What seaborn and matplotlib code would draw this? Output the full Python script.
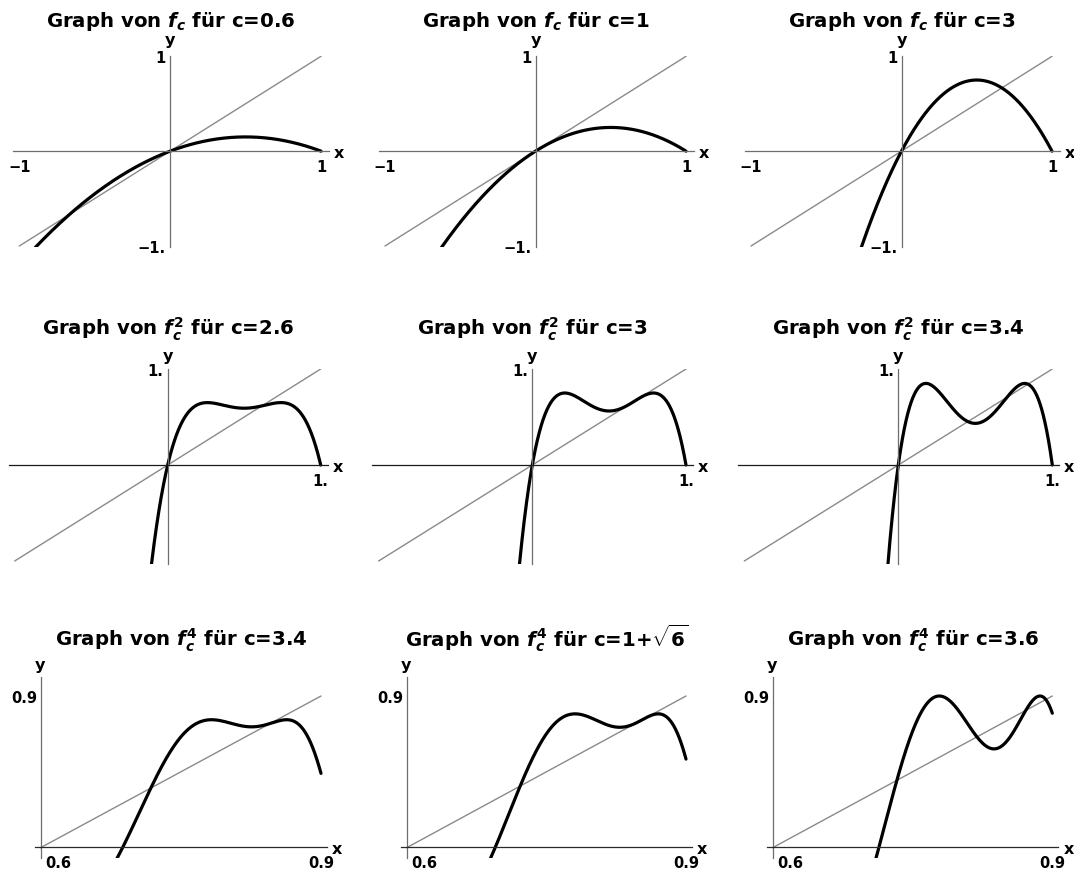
import numpy as np
import matplotlib
matplotlib.use("Agg")
import matplotlib.pyplot as plt
import seaborn as sns

# Logistic map f_c(x) = c*x*(1-x); each row shows an iterate f_c^n
c_row1 = [0.6, 1.0, 3.0]
c_row2 = [2.6, 3.0, 3.4]
c_row3 = [3.4, 1 + np.sqrt(6), 3.6]
c_labels_row1 = ["0.6", "1", "3"]
c_labels_row2 = ["2.6", "3", "3.4"]
c_labels_row3 = ["3.4", r"1+$\sqrt{6}$", "3.6"]
iterations = [1, 2, 4]
iterate_labels = [r"$f_c$", r"$f_c^2$", r"$f_c^4$"]
domains = [(-1.0, 1.0), (-1.0, 1.0), (0.58, 0.9)]

# Axis ticks and their printed labels per row
xticks_row1, xticklabels_row1 = [-1, 1], ["\u22121", "1"]
yticks_row1, yticklabels_row1 = [-1, 1], ["\u22121.", "1"]
xticks_row2, xticklabels_row2 = [1], ["1."]
yticks_row2, yticklabels_row2 = [1], ["1."]
xticks_row3, xticklabels_row3 = [0.6, 0.9], ["0.6", "0.9"]
yticks_row3, yticklabels_row3 = [0.6, 0.9], ["", "0.9"]

W, H = 1074, 870

sns.set_theme(style="white")
plt.rcParams["font.family"] = ["DejaVu Sans"]
plt.rcParams["font.weight"] = "bold"
plt.rcParams["text.color"] = "black"
plt.rcParams["axes.labelcolor"] = "black"
plt.rcParams["xtick.color"] = "black"
plt.rcParams["ytick.color"] = "black"
plt.rcParams["mathtext.fontset"] = "custom"
plt.rcParams["mathtext.it"] = "DejaVu Sans:italic:bold"
plt.rcParams["mathtext.rm"] = "DejaVu Sans:bold"
plt.rcParams["mathtext.bf"] = "DejaVu Sans:bold"

fig = plt.figure(figsize=(W / 100, H / 100), dpi=100)
fig.patch.set_facecolor("white")

# Layout: data limits, axis crossing and pixel anchors for each row
rows = [
    dict(c=c_row1, clab=c_labels_row1, xlim=(-1.04, 1.05), ylim=(-1.01, 1.0), origin=(0.0, 0.0),
         xa=(-1.0, [19.3, 385.0, 751.0]), xb=(1.0, [321.0, 686.0, 1052.0]),
         ya=(1.0, 57.3), yb=(-1.0, 247.0),
         xt=(xticks_row1, xticklabels_row1), yt=(yticks_row1, yticklabels_row1),
         title_base=26.7, ylab_gap=12.5, ylab_dx=0.0, xcol="#6e6e6e"),
    dict(c=c_row2, clab=c_labels_row2, xlim=(-1.04, 1.045), ylim=(-1.03, 1.0), origin=(0.0, 0.0),
         xa=(0.0, [167.7, 532.3, 898.3]), xb=(1.0, [320.7, 686.0, 1052.3]),
         ya=(1.0, 370.0), yb=(0.0, 466.0),
         xt=(xticks_row2, xticklabels_row2), yt=(yticks_row2, yticklabels_row2),
         title_base=335.0, ylab_gap=9.5, ylab_dx=0.0, xcol="#1a1a1a"),
    dict(c=c_row3, clab=c_labels_row3, xlim=(0.574, 0.907), ylim=(0.559, 0.94), origin=(0.581, 0.581),
         xa=(0.6, [58.0, 424.0, 790.0]), xb=(0.9, [321.0, 686.0, 1052.3]),
         ya=(0.9, 697.0), yb=(0.581, 848.3),
         xt=(xticks_row3, xticklabels_row3), yt=(yticks_row3, yticklabels_row3),
         title_base=646.7, ylab_gap=8.5, ylab_dx=-1.5, xcol="#2a2a2a"),
]


def logistic_iterate(x, c, n):
    y = np.asarray(x, dtype=float)
    for _ in range(n):
        y = c * y * (1.0 - y)
    return y


px_to_pt = 72.0 / 100.0

for r, row in enumerate(rows):
    (xv0, xp0s), (xv1, xp1s) = row["xa"], row["xb"]
    (yv0, yp0), (yv1, yp1) = row["ya"], row["yb"]
    y_scale = (yp1 - yp0) / (yv0 - yv1)  # pixels per unit (downwards)
    top_px = yp0 - (row["ylim"][1] - yv0) * y_scale
    bot_px = yp0 + (yv0 - row["ylim"][0]) * y_scale
    for k in range(3):
        x_scale = (xp1s[k] - xp0s[k]) / (xv1 - xv0)
        left_px = xp0s[k] - (xv0 - row["xlim"][0]) * x_scale
        right_px = xp0s[k] + (row["xlim"][1] - xv0) * x_scale
        ax = fig.add_axes([left_px / W, 1 - bot_px / H,
                           (right_px - left_px) / W, (bot_px - top_px) / H])
        ax.set_facecolor("white")

        a, b = domains[r]
        xs = np.linspace(a, b, 1200)
        ys = logistic_iterate(xs, row["c"][k], iterations[r])
        sns.lineplot(x=xs, y=xs, ax=ax, color="#8a8a8a", linewidth=1.0,
                     estimator=None, sort=False)
        sns.lineplot(x=xs, y=ys, ax=ax, color="black", linewidth=2.3,
                     estimator=None, sort=False)
        ax.set_xlim(*row["xlim"])
        ax.set_ylim(*row["ylim"])
        ax.set_xlabel("")
        ax.set_ylabel("")
        ax.grid(False)

        ox, oy = row["origin"]
        for side in ("top", "right"):
            ax.spines[side].set_visible(False)
        ax.spines["left"].set_position(("data", ox))
        ax.spines["bottom"].set_position(("data", oy))
        ax.spines["left"].set_color("#6e6e6e")
        ax.spines["bottom"].set_color(row["xcol"])
        ax.spines["left"].set_linewidth(0.9)
        ax.spines["bottom"].set_linewidth(0.9)

        ax.set_xticks(row["xt"][0])
        ax.set_xticklabels(row["xt"][1])
        ax.set_yticks(row["yt"][0])
        ax.set_yticklabels(row["yt"][1])
        ax.tick_params(axis="both", direction="in", length=3.5, width=0.8,
                       colors="#5a5a5a", labelcolor="black", labelsize=10.5)
        ax.tick_params(axis="x", pad=5.5)
        ax.tick_params(axis="y", pad=3)
        for lab in ax.get_xticklabels() + ax.get_yticklabels():
            lab.set_fontweight("bold")
            lab.set_color("black")

        # axis names at the end of each axis
        ax.annotate("x", xy=(1.0, oy), xycoords=ax.get_yaxis_transform(),
                    xytext=(5 * px_to_pt, -6 * px_to_pt), textcoords="offset points",
                    ha="left", va="baseline", fontsize=11.5, fontweight="bold",
                    color="black")
        ax.annotate("y", xy=(ox, 1.0), xycoords=ax.get_xaxis_transform(),
                    xytext=(row["ylab_dx"] * px_to_pt, row["ylab_gap"] * px_to_pt),
                    textcoords="offset points",
                    ha="center", va="baseline", fontsize=11.5, fontweight="bold",
                    color="black")

        # title centred over the panel
        cx = (left_px + right_px) / 2
        fig.text(cx / W, 1 - row["title_base"] / H,
                 "Graph von " + iterate_labels[r] + " für c=" + row["clab"][k],
                 ha="center", va="baseline", fontsize=14.2, fontweight="bold",
                 color="black")

fig.savefig("out.png", dpi=100, facecolor="white")
